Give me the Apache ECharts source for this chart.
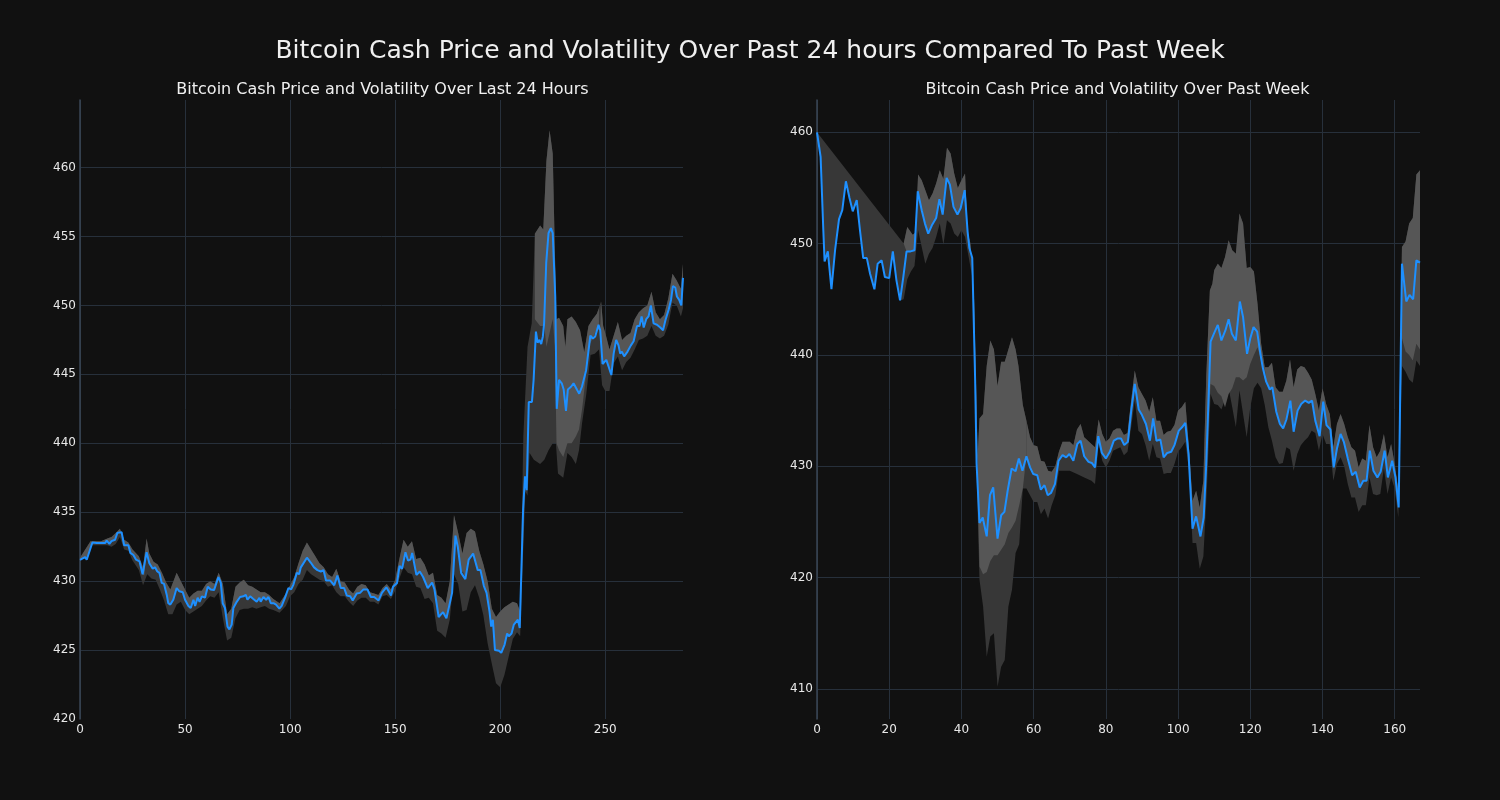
<!DOCTYPE html>
<html><head><meta charset="utf-8">
<script src="https://cdn.jsdelivr.net/npm/echarts@6/dist/echarts.min.js"></script>
<style>html,body{margin:0;padding:0;background:#111111;}#c{width:1500px;height:800px;}</style>
</head><body><div id="c"></div>
<script>
// ---------- Data ----------
const mainTitle = 'Bitcoin Cash Price and Volatility Over Past 24 hours Compared To Past Week';
const leftTitle = 'Bitcoin Cash Price and Volatility Over Last 24 Hours';
const rightTitle = 'Bitcoin Cash Price and Volatility Over Past Week';

const leftXTicks = [0, 50, 100, 150, 200, 250];
const leftYTicks = [420, 425, 430, 435, 440, 445, 450, 455, 460];
const leftYGrid = [425, 430, 435, 440, 445, 450, 455, 460];
const rightXTicks = [0, 20, 40, 60, 80, 100, 120, 140, 160];
const rightYTicks = [410, 420, 430, 440, 450, 460];

// 24h price, [step, price]
const dayPrice = [[0,431.55],[2.4,431.75],[3.2,431.55],[5.9,432.8],[8,432.77],[10,432.77],[12,432.77],[12.7,432.94],[14,432.7],[15,432.9],[16.7,433.0],[17.8,433.5],[19.8,433.55],[21,432.6],[23,432.6],[24,432.05],[25.4,431.9],[26.7,431.56],[28.3,431.44],[29.8,430.5],[30.6,430.4],[31.7,432.1],[33,431.3],[34.6,430.9],[35.7,431.0],[36.8,430.7],[37.8,430.6],[38.9,429.87],[40,429.8],[41.3,429.0],[42,428.4],[43,428.3],[44.4,428.65],[46,429.5],[47.3,429.26],[48.9,429.2],[50,428.65],[51.6,428.2],[52.7,428.05],[54,428.65],[54.8,428.2],[56,428.8],[56.9,428.5],[58,428.9],[59.5,428.8],[60.8,429.6],[62.2,429.4],[63.8,429.35],[65.9,430.3],[67,429.87],[67.9,428.4],[69,428.05],[70.2,426.7],[71.1,426.5],[72.2,426.85],[73,428.05],[74.6,428.5],[76.2,428.85],[77.8,428.9],[78.9,429.0],[79.7,428.65],[81,428.9],[82.5,428.7],[84.1,428.5],[85.4,428.8],[86,428.5],[87.3,428.85],[88.6,428.65],[89.7,428.85],[90.8,428.4],[92.1,428.4],[93.3,428.3],[94.9,428.0],[96,428.2],[97.6,428.8],[99.2,429.5],[100.5,429.4],[101.6,429.75],[103.2,430.6],[104.3,430.5],[105.1,431.0],[106,431.1],[108,431.7],[109.8,431.35],[111.4,431.0],[113,430.8],[114.6,430.7],[115.9,430.8],[117.1,430.05],[119,430.05],[119.8,430.0],[121,429.7],[122.5,430.4],[124.1,429.5],[125.7,429.5],[127,428.95],[128.6,428.9],[129.8,428.6],[131.7,429.1],[133.3,429.15],[134.9,429.4],[136.8,429.4],[138.4,428.85],[140,428.85],[142.1,428.6],[143.7,429.15],[145.8,429.55],[146.9,429.26],[148,428.95],[149,429.6],[150.9,429.87],[152.1,431.1],[153.3,430.9],[154.9,432.1],[156.1,431.5],[157.3,431.56],[158.1,432.05],[160.1,430.45],[161.7,430.7],[163.3,430.3],[165.5,429.5],[167.6,429.9],[168.7,429.4],[170.7,427.4],[172.8,427.75],[174.4,427.3],[177.1,429.15],[178.7,433.3],[179.8,432.5],[181.4,430.6],[182.3,430.7],[183.4,430.15],[185,431.56],[187.1,432.0],[189.3,430.8],[190.6,430.8],[192.2,429.66],[193.5,429.15],[194.9,427.8],[195.7,426.7],[196.5,427.2],[197.5,425.0],[199.4,424.95],[200.5,424.8],[202.1,425.4],[203.3,426.2],[204.1,426.0],[205.4,426.2],[206.5,426.85],[208.4,427.2],[209.3,426.6],[210.9,435.2],[211.8,437.6],[212.6,436.6],[213.6,443.0],[215.1,443.0],[215.9,444.6],[217,448.1],[217.8,447.3],[218.7,447.5],[219.5,447.2],[220.3,447.75],[220.9,448.7],[221.9,453.1],[223,455.25],[224.1,455.6],[225,455.25],[226.2,450.65],[226.9,442.5],[228,444.6],[229.3,444.35],[230.2,443.9],[231.3,442.35],[232.2,443.9],[233.7,444.1],[234.9,444.35],[236.5,443.9],[237.6,443.6],[238.9,444.1],[240.9,445.3],[242.9,447.8],[244.1,447.6],[245.2,447.75],[246.8,448.6],[247.6,448.2],[248.7,445.75],[249.5,445.8],[250.5,446.05],[251.6,445.55],[252.9,444.95],[254,446.5],[255.2,447.5],[256.3,447.1],[257.1,446.5],[257.9,446.65],[259,446.3],[260.6,446.65],[262.2,447.1],[263.5,447.4],[265.1,448.5],[266.3,448.5],[267.3,449.2],[268.3,448.4],[269.5,449.0],[270.6,449.2],[271.7,450.0],[273,448.7],[274.6,448.6],[276.2,448.4],[277.5,448.2],[278.6,448.9],[280.2,449.7],[281.3,450.4],[282.2,451.4],[283.3,451.3],[284.1,450.65],[285.2,450.4],[286.2,450.0],[287,452.0]];

// 24h volatility band (outer edges)
const dayUpper = [[0,431.7],[5,432.9],[10,432.9],[13,433.1],[15,433.2],[17,433.5],[19,433.8],[21,433.0],[23,432.8],[25,432.3],[28,431.8],[30,431.0],[31.7,433.1],[33,432.0],[35,431.4],[37,431.2],[39,430.6],[41,429.9],[43,429.4],[46,430.6],[48,430.0],[50,429.4],[52,428.8],[54,429.1],[56,429.3],[58,429.3],[60,429.8],[62,430.0],[64,429.8],[66,430.6],[68,429.8],[70,427.6],[72,428.0],[74,429.6],[76,429.9],[78,430.1],[80,429.7],[82,429.6],[84,429.4],[86,429.2],[88,429.2],[90,429.0],[92,428.7],[95,428.4],[98,429.1],[100,429.7],[102,430.3],[104,431.3],[106,432.2],[108,432.8],[110,432.3],[112,431.8],[114,431.3],[116,431.0],[118,430.5],[120,430.3],[122,430.9],[124,430.0],[126,429.9],[128,429.4],[130,429.1],[132,429.6],[134,429.8],[136,429.7],[138,429.2],[140,429.1],[142,429.0],[144,429.5],[146,429.8],[148,429.4],[150,430.1],[152,431.6],[154,433.0],[156,432.5],[158,432.9],[160,431.6],[162,431.7],[164,431.2],[166,430.4],[168,430.6],[170,429.0],[172,428.8],[174,428.4],[176,430.0],[178,434.8],[180,433.5],[182,432.0],[184,433.5],[186,433.8],[188,433.6],[190,432.2],[192,431.2],[194,430.0],[196,428.0],[198,427.4],[200,427.8],[202,428.1],[204,428.3],[206,428.5],[208,428.4],[209.5,427.8],[211,440.5],[213,447.0],[215,448.7],[216.5,455.2],[219,455.8],[220.5,455.5],[222,460.5],[223.5,462.7],[225,461.0],[226,454.0],[226.8,449.0],[228,449.1],[230,448.5],[231,447.0],[232,449.0],[234,449.2],[236,448.8],[238,448.2],[240,446.6],[242,448.5],[244,449.0],[246,449.4],[248,450.3],[249,448.5],[250,448.0],[252,446.8],[254,447.8],[256,448.8],[258,447.5],[260,447.8],[262,448.0],[264,449.0],[266,449.5],[268,449.8],[270,450.0],[272,451.0],[274,449.5],[276,449.0],[278,449.3],[280,450.5],[282,452.3],[284,451.8],[286,451.2],[287,453.0]];

const dayLower = [[0,431.4],[5,432.6],[10,432.6],[13,432.6],[15,432.5],[17,432.7],[19,433.2],[21,432.3],[23,432.2],[25,431.5],[28,430.8],[30,429.7],[32,430.5],[34,430.2],[36,430.1],[38,429.4],[40,428.6],[42,427.6],[44,427.6],[46,428.3],[48,428.5],[50,427.9],[52,427.6],[54,427.8],[56,428.0],[58,428.2],[60,428.6],[62,428.9],[64,428.8],[66,429.2],[68,427.3],[70,425.7],[72,425.9],[74,427.3],[76,427.9],[78,428.0],[80,428.0],[82,428.1],[84,428.0],[86,428.1],[88,428.2],[90,428.0],[92,427.9],[95,427.7],[98,428.2],[100,428.9],[102,429.2],[104,429.8],[106,430.1],[108,430.8],[110,430.5],[112,430.3],[114,430.1],[116,430.0],[118,429.6],[120,429.7],[122,429.2],[124,428.9],[126,428.9],[128,428.5],[130,428.2],[132,428.6],[134,428.8],[136,428.8],[138,428.5],[140,428.5],[142,428.3],[144,428.9],[146,429.0],[148,428.7],[150,429.3],[152,430.2],[154,431.0],[156,430.6],[158,430.5],[160,429.6],[162,429.5],[164,428.7],[166,428.8],[168,428.4],[170,426.4],[172,426.2],[174,425.9],[176,427.2],[178,430.5],[180,429.8],[182,427.8],[184,427.9],[186,429.2],[188,429.7],[190,428.8],[192,427.5],[194,425.5],[196,424.0],[198,422.6],[200,422.3],[202,423.2],[204,424.5],[206,425.8],[208,426.3],[209.5,426.0],[211,432.5],[212,436.5],[213,436.2],[214,439.3],[216,438.8],[219,438.5],[221,438.8],[223,439.5],[225,440.0],[226.5,440.0],[227.5,437.8],[230,437.5],[232,439.3],[234,439.0],[236,438.5],[237.5,439.5],[239,441.5],[241,443.6],[243,446.4],[245,446.5],[247,446.8],[248.5,444.2],[250,443.8],[252,443.8],[254,445.8],[256,446.3],[258,445.3],[260,445.9],[262,446.2],[264,446.8],[266,447.5],[268,447.6],[270,447.8],[272,448.5],[274,447.8],[276,447.6],[278,447.8],[280,448.6],[282,450.2],[284,450.0],[286,449.2],[287,449.8]];

// 24h lighter (overlapping) part of the band where it differs from "upper edge to price line"
const dayLightUpper = [[216.5,455.2],[219,455.8],[220.5,455.5],[222,460.5],[223.5,462.7],[225,461.0],[226,454.0],[226.8,449.0],[228,449.1],[230,448.5],[231,447.0],[232,449.0],[234,449.2],[236,448.8],[238,448.2],[240,446.6],[242,448.5],[244,449.0],[246,449.4],[247,449.8]];
const dayLightLower = [[216.5,449.0],[219,448.5],[221,448.5],[222,447.0],[223.5,448.0],[225,449.0],[226,447.0],[226.8,440.0],[228,439.5],[230,439.0],[232,440.0],[234,440.0],[236,440.5],[237.5,441.0],[239,442.5],[240.5,444.5],[242,447.0],[244,447.6],[246,448.3],[247,448.2]];
const dayLightPlain = [[0, 210], [247, 287]];

// Week price, [hour, price]
const weekPrice = [[0,460.0],[1,457.8],[1.75,451.2],[2.1,448.4],[2.5,448.5],[3,449.3],[4,445.9],[5,449.4],[6.1,452.2],[7,453.0],[8,455.6],[9,454.1],[9.9,452.9],[11,453.9],[11.9,451.2],[12.8,448.7],[13.8,448.7],[14.7,447.3],[15.9,445.9],[16.8,448.2],[17.9,448.5],[18.8,447.0],[20,446.9],[21,449.3],[22,446.7],[23,444.9],[23.9,447.0],[24.8,449.3],[25.9,449.3],[27,449.4],[27.9,454.7],[29,453.0],[29.9,451.8],[30.8,450.9],[31.9,451.7],[33,452.3],[33.9,454.0],[34.8,452.6],[35.9,455.9],[36.8,455.3],[37.8,453.3],[38.9,452.6],[39.8,453.2],[40.9,454.8],[41.7,451.1],[42.2,449.6],[43,448.7],[43.8,437.7],[44.2,430.2],[45,424.9],[45.9,425.4],[47,423.7],[47.9,427.4],[48.8,428.1],[50,423.5],[51,425.6],[51.9,425.9],[52.8,427.8],[53.9,429.8],[55,429.55],[55.9,430.7],[56.9,429.6],[58,430.9],[59,429.9],[59.9,429.3],[61,429.2],[62,427.9],[63,428.3],[63.9,427.4],[64.8,427.6],[65.9,428.4],[66.9,430.5],[68,431.0],[69,430.8],[69.9,431.1],[71,430.5],[72.1,432.0],[73,432.3],[74,430.9],[75.2,430.4],[76.1,430.3],[77,429.9],[77.9,432.7],[78.9,431.2],[80,430.7],[81.1,431.3],[82.2,432.3],[83.3,432.5],[84.2,432.5],[85.1,431.9],[86.1,432.2],[87,434.9],[88,437.4],[89.1,435.1],[90,434.6],[91.1,433.8],[92.2,432.3],[93.1,434.3],[94,432.3],[95.1,432.4],[96,430.8],[97,431.2],[98.1,431.3],[99,431.9],[100.2,433.2],[101.1,433.5],[102,433.9],[102.9,431.1],[104,424.4],[105,425.5],[106.2,423.7],[107.1,425.4],[107.8,430.2],[109,441.2],[109.9,441.9],[111,442.7],[112,441.3],[113.1,442.2],[114,443.2],[114.9,441.9],[116,441.3],[117.1,444.8],[118,443.4],[119.1,440.1],[120,441.5],[120.9,442.5],[121.9,442.1],[122.8,440.1],[123.5,438.8],[124.4,437.6],[125.4,436.9],[126.1,437.1],[127.2,434.9],[128.2,433.8],[129.1,433.4],[130,434.2],[131.1,435.9],[132,433.1],[133.1,435.0],[134.1,435.6],[135.2,435.9],[136.2,435.7],[137.1,435.9],[138,434.1],[139.2,432.7],[140.2,435.8],[141.1,433.7],[142.2,433.3],[143.1,429.9],[144,431.6],[145,432.9],[145.9,432.2],[147,430.7],[148.2,429.2],[149.2,429.5],[150.3,428.1],[151.3,428.7],[152.2,428.7],[153.1,431.4],[154.1,429.6],[155.2,429.0],[156.1,429.5],[157.2,431.4],[158.1,429.0],[159.3,430.5],[160.2,429.0],[161.1,426.3],[162,448.2],[163.2,444.8],[164.1,445.4],[165.1,445.0],[166,448.5],[167,448.3]];

const weekUpper = [[0,460],[24,450],[25,451.5],[26.5,450.8],[27.3,451],[28,456.2],[29,455.7],[30,454.8],[31,453.9],[32,454.5],[33,455.4],[34,456.6],[35,455.8],[36,458.6],[37,458.1],[38,456.3],[39,455.0],[40,455.7],[41,456.3],[41.7,451],[42.5,450],[43.5,445],[44.5,431],[45,434.3],[46,434.7],[47,439],[48,441.3],[49,440.5],[50,437.2],[51,439.4],[52,439.4],[53,440.5],[54,441.6],[55,440.5],[55.8,439.0],[57,435.5],[58,434.1],[59,432.6],[60,431.9],[61,431.8],[62,430.5],[63,430.4],[64,429.6],[65,429.5],[66,430],[67,431.3],[68,432.2],[70,432.2],[71,431.9],[72,433.3],[73,433.8],[74,432.6],[76,432],[77,431.7],[78,434.2],[79,432.9],[80,432.2],[81,432.5],[82,433.2],[83,433.4],[84,433.4],[85,432.8],[86,433.0],[87,435.9],[88,438.6],[89,437.1],[90,436.5],[91,435.9],[92,434.9],[93,436.2],[94,434.1],[95,434.1],[96,432.8],[97,433.1],[98,433.2],[99,433.7],[100,435.0],[101,435.3],[102,435.8],[103,431.7],[104,426.9],[105,427.8],[106,426.3],[107,428.7],[107.8,438],[108.8,445.8],[109.5,446.4],[110,447.6],[111,448.2],[112,447.8],[113,448.8],[114,450.3],[115,449.4],[116,449.1],[117,452.7],[118,451.8],[119,447.8],[120,447.9],[121,447.5],[122,444.6],[123,441],[124,438.9],[125,438.9],[126,439.3],[127,437.1],[128,436.7],[129,436.7],[130,437.7],[131,439.6],[132,437.1],[133,438.7],[134,439],[135,438.9],[136,438.4],[137,437.8],[138,436.5],[139,435],[140,437],[141,435.6],[142,434.7],[143,431.7],[144,433.8],[145,434.7],[146,433.8],[147,432.6],[148,431.7],[149,431.4],[150,429.9],[151,430.7],[152,430.5],[153,433.7],[154,431.7],[155,430.8],[156,431.4],[157,432.9],[158,430.8],[159,432],[160,430.2],[161,427.8],[162,449.7],[163,450.2],[164,451.8],[165,452.3],[166,456.2],[167,456.6]];

const weekLower = [[0,460],[1,457.8],[1.75,451.2],[2.1,448.4],[2.5,448.5],[3,449.3],[4,445.9],[5,449.4],[6.1,452.2],[7,453.0],[8,455.6],[9,454.1],[9.9,452.9],[11,453.9],[11.9,451.2],[12.8,448.7],[13.8,448.7],[14.7,447.3],[15.9,445.9],[16.8,448.2],[17.9,448.5],[18.8,447.0],[20,446.9],[21,449.3],[22,446.7],[23,444.9],[24,445.0],[25,446.8],[26,447.5],[27,448.0],[28,451.2],[29,449.7],[30,448.2],[31,449.1],[32,449.6],[33,450.6],[34,451.8],[35,449.9],[36,452.1],[37,451.8],[38,450.9],[39,450.6],[40,451.2],[41,450.6],[42,448.8],[43,447.0],[43.8,438],[44.3,428],[45,419.8],[46,417.4],[47,412.9],[48,414.7],[49,415.0],[50,410.2],[51,412.0],[52,412.6],[53,417.4],[54,418.9],[55,422.2],[56,423.0],[57,428.0],[58,428.0],[59,427.4],[60,426.8],[61,426.8],[62,425.7],[63,426.2],[64,425.3],[65,426.5],[66,427.4],[67,429.6],[70,429.6],[72,429.3],[74,429.0],[76,428.7],[77,428.4],[78,432.0],[79,430.5],[80,429.9],[81,430.5],[82,431.4],[84,431.7],[85,431.0],[86,431.3],[87,433.5],[88,435.9],[89,433.2],[90,432.9],[91,431.9],[92,430.5],[93,432.0],[94,430.8],[95,430.7],[96,429.3],[97,429.4],[98,429.4],[99,430.2],[100,431.3],[101,431.7],[102,432.2],[103,429.7],[104,423.1],[105,423.1],[106,420.8],[107,421.9],[108,428],[109,436.5],[110,435.6],[111,435.5],[112,435.1],[113,436.0],[114,437.0],[115,435.3],[116,433.5],[117,436.8],[118,434.7],[119,432.6],[120,435.3],[121,437.0],[122,437.5],[123,437.0],[124,435.5],[125,433.5],[126,432.3],[127,430.8],[128,430.2],[129,430.3],[130,431.7],[131,431.5],[132,429.6],[133,431.1],[134,431.9],[135,432.3],[136,432.6],[137,433.2],[138,433.0],[139,431.4],[140,432.9],[141,432.0],[142,432.0],[143,428.7],[144,430.2],[145,430.8],[146,430.0],[147,428.4],[148,427.2],[149,427.2],[150,425.9],[151,426.5],[152,426.5],[153,429.0],[154,427.5],[155,427.4],[156,427.5],[157,429.8],[158,427.5],[159,429.0],[160,428.0],[161,425.4],[162,439.0],[163,438.5],[164,437.8],[165,437.5],[166,439.5],[167,439.0]];

// Week lighter (overlapping) part: lower edges where it differs from the price line
const weekLightLowerA = [[44.5,428],[45,421],[46,420.3],[47,420.5],[48,421.5],[49,422],[50,422],[51,422.5],[52,423],[53,424],[54,424.5],[55,425.1],[56,426.5],[57,428],[58,430.9]];
const weekLightLowerB = [[107.8,430.2],[109,437.4],[110,437.2],[111,436.6],[112,436.3],[113,435.3],[114,436.5],[115,437],[116,438],[117,438],[118,437.7],[119,438],[120,439.2],[121,440],[122,440.7],[123,439.5],[124,437.8]];
const weekLightLowerC = [[161.1,426.3],[162,441.5],[163,440.3],[164,440.0],[165,439.5],[166,441.0],[167,440.5]];
const weekLightPlain = [[24, 44.5], [58, 107.8], [124, 161.1]];

// ---------- Chart ----------
const FONT = 'DejaVu Sans';
const TXT = '#e8e8e8';
const GRIDC = '#27303b';
const BAND_DARK = '#373737';
const BAND_LIGHT = '#565656';
const LINE = '#1e90ff';

function inRange(arr, a, b) { return arr.filter(p => p[0] >= a && p[0] <= b); }

function polySeries(idx, upper, lower, fill, z) {
  return {
    type: 'custom', xAxisIndex: idx, yAxisIndex: idx, clip: true, silent: true, z: z,
    data: [[upper[0][0], upper[0][1]]],
    renderItem: function (params, api) {
      const pts = [];
      for (const p of upper) pts.push(api.coord(p));
      for (let i = lower.length - 1; i >= 0; i--) pts.push(api.coord(lower[i]));
      return { type: 'polygon', shape: { points: pts }, style: { fill: fill, stroke: null } };
    }
  };
}

function xAxis(idx, max, ticks) {
  return {
    type: 'value', gridIndex: idx, min: 0, max: max,
    axisLine: { show: false },
    axisTick: { show: false, customValues: ticks },
    axisLabel: { customValues: ticks, color: TXT, fontSize: 12, fontFamily: FONT, margin: 5 },
    splitLine: { show: true, lineStyle: { color: GRIDC, width: 1 } }
  };
}
function yAxis(idx, min, max, labels, grid) {
  return {
    type: 'value', gridIndex: idx, min: min, max: max,
    axisLine: { show: true, onZero: false, lineStyle: { color: '#3a4656', width: 1.5 } },
    axisTick: { show: false, customValues: grid },
    axisLabel: { customValues: labels, color: TXT, fontSize: 12, fontFamily: FONT, margin: 4 },
    splitLine: { show: true, lineStyle: { color: GRIDC, width: 1 } }
  };
}

const series = [];
// 24h
series.push(polySeries(0, dayUpper, dayLower, BAND_DARK, 1));
for (const r of dayLightPlain) series.push(polySeries(0, inRange(dayUpper, r[0], r[1]), inRange(dayPrice, r[0], r[1]), BAND_LIGHT, 2));
series.push(polySeries(0, dayLightUpper, dayLightLower, BAND_LIGHT, 2));
series.push({ type: 'line', xAxisIndex: 0, yAxisIndex: 0, data: dayPrice, showSymbol: false, z: 3,
  lineStyle: { color: LINE, width: 2 }, itemStyle: { color: LINE } });
// week
series.push(polySeries(1, weekUpper, weekLower, BAND_DARK, 1));
for (const r of weekLightPlain) series.push(polySeries(1, inRange(weekUpper, r[0], r[1]), inRange(weekPrice, r[0], r[1]), BAND_LIGHT, 2));
series.push(polySeries(1, inRange(weekUpper, 44.5, 58), weekLightLowerA, BAND_LIGHT, 2));
series.push(polySeries(1, inRange(weekUpper, 107.8, 124), weekLightLowerB, BAND_LIGHT, 2));
series.push(polySeries(1, inRange(weekUpper, 161, 167), weekLightLowerC, BAND_LIGHT, 2));
series.push({ type: 'line', xAxisIndex: 1, yAxisIndex: 1, data: weekPrice, showSymbol: false, z: 3,
  lineStyle: { color: LINE, width: 2 }, itemStyle: { color: LINE } });

const chart = echarts.init(document.getElementById('c'), null, { renderer: 'canvas' });
chart.setOption({
  backgroundColor: '#111111',
  animation: false,
  title: [
    { text: mainTitle, left: 745, top: 34, textAlign: 'center',
      textStyle: { color: '#f0f0f0', fontSize: 25, fontWeight: 'normal', fontFamily: FONT } },
    { text: leftTitle, left: 377.5, top: 77, textAlign: 'center',
      textStyle: { color: '#f0f0f0', fontSize: 16, fontWeight: 'normal', fontFamily: FONT } },
    { text: rightTitle, left: 1112.5, top: 77, textAlign: 'center',
      textStyle: { color: '#f0f0f0', fontSize: 16, fontWeight: 'normal', fontFamily: FONT } }
  ],
  grid: [
    { left: 80, right: 817, top: 100, bottom: 81 },
    { left: 817, right: 80, top: 100, bottom: 81 }
  ],
  xAxis: [xAxis(0, 287, leftXTicks), xAxis(1, 167, rightXTicks)],
  yAxis: [yAxis(0, 420, 464.9, leftYTicks, leftYGrid), yAxis(1, 407.3, 462.9, rightYTicks, rightYTicks)],
  series: series
});
</script></body></html>
